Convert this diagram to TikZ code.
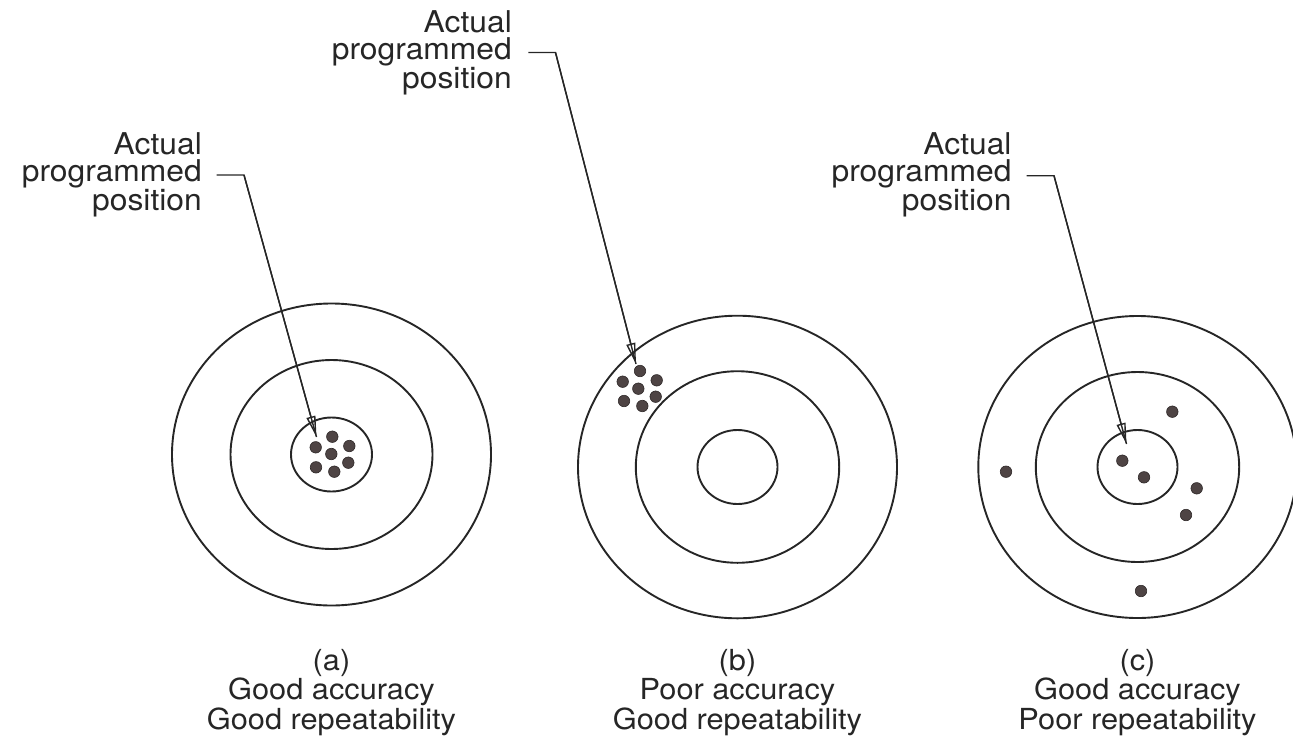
\documentclass[tikz,border=0pt]{standalone}
\usepackage{fontspec}
\setmainfont{TeX Gyre Heros}[FakeStretch=1.06]
\usetikzlibrary{arrows.meta}
\definecolor{ink}{HTML}{262626}
\definecolor{dotc}{HTML}{4E4444}
\definecolor{dotd}{HTML}{2E2828}
\begin{document}
\begin{tikzpicture}[x=1pt,y=-1pt,
  ring/.style={draw=ink, line width=1.9pt},
  shot/.style={circle, fill=dotc, draw=dotd, line width=0.6pt, minimum size=11.5pt, inner sep=0pt},
  leader/.style={draw=ink, line width=1.4pt},
  pointer/.style={draw=ink, line width=1.4pt, -{Triangle[open, length=21pt, width=9pt, line width=1.4pt]}},
  toplabel/.style={font=\fontsize{30}{27.5}\selectfont, align=right, inner sep=0pt, anchor=base east, text=ink},
  caption/.style={font=\fontsize{29}{29.5}\selectfont, align=center, inner sep=0pt, anchor=base, text=ink}]
\useasboundingbox (0,0) rectangle (1293,742);

% ---------- panel (a)
\coordinate (ca) at (331.5,454.5);
\draw[ring] (ca) ellipse [x radius=159.5, y radius=151];
\draw[ring] (ca) ellipse [x radius=101, y radius=94.5];
\draw[ring] (ca) ellipse [x radius=40.5, y radius=37];
\node[shot] (a1) at (332.3,436.7) {};
\node[shot] (a2) at (315.7,447.3) {};
\node[shot] (a3) at (349.3,446) {};
\node[shot] (a4) at (331.3,454) {};
\node[shot] (a5) at (316,467.3) {};
\node[shot] (a6) at (348.3,462.7) {};
\node[shot] (a7) at (334.3,471.7) {};
\node[toplabel] (la) at (202,210.7) {Actual\\programmed\\position};
\coordinate (sa) at (216.7,175);
\coordinate (ka) at (244,175);
\coordinate (ta) at (316.5,437);
\draw[leader] (sa) -- (ka) -- (ta);
\draw[pointer] (ka) -- (ta);
\node[caption] (pa) at (331.5,729) {(a)\\Good accuracy\\Good repeatability};

% ---------- panel (b)
\coordinate (cb) at (737.5,467);
\draw[ring] (cb) ellipse [x radius=159.5, y radius=151.3];
\draw[ring] (cb) ellipse [x radius=101.7, y radius=95.8];
\draw[ring] (cb) ellipse [x radius=40, y radius=37];
\node[shot] (b1) at (640,371) {};
\node[shot] (b2) at (622.7,381.7) {};
\node[shot] (b3) at (656.7,380.3) {};
\node[shot] (b4) at (638.3,388.7) {};
\node[shot] (b5) at (624,401) {};
\node[shot] (b6) at (655.7,396.7) {};
\node[shot] (b7) at (642.3,406) {};
\node[toplabel] (lb) at (512,88.5) {Actual\\programmed\\position};
\coordinate (sb) at (528.3,52.5);
\coordinate (kb) at (555.5,52.5);
\coordinate (tb) at (636,364);
\draw[leader] (sb) -- (kb) -- (tb);
\draw[pointer] (kb) -- (tb);
\node[caption] (pb) at (737.5,729) {(b)\\Poor accuracy\\Good repeatability};

% ---------- panel (c)
\coordinate (cc) at (1137.5,467);
\draw[ring] (cc) ellipse [x radius=159.2, y radius=151];
\draw[ring] (cc) ellipse [x radius=101.7, y radius=95];
\draw[ring] (cc) ellipse [x radius=40, y radius=37];
\node[shot] (c1) at (1172.3,411.7) {};
\node[shot] (c2) at (1006,471.7) {};
\node[shot] (c3) at (1122.3,460.7) {};
\node[shot] (c4) at (1144,477.3) {};
\node[shot] (c5) at (1196.7,488.3) {};
\node[shot] (c6) at (1186,515) {};
\node[shot] (c7) at (1141,591) {};
\node[toplabel] (lc) at (1011.7,210.7) {Actual\\programmed\\position};
\coordinate (sc) at (1026.7,175.7);
\coordinate (kc) at (1054,175.7);
\coordinate (tc) at (1126.5,444);
\draw[leader] (sc) -- (kc) -- (tc);
\draw[pointer] (kc) -- (tc);
\node[caption] (pc) at (1137.5,729) {(c)\\Good accuracy\\Poor repeatability};
\end{tikzpicture}
\end{document}
